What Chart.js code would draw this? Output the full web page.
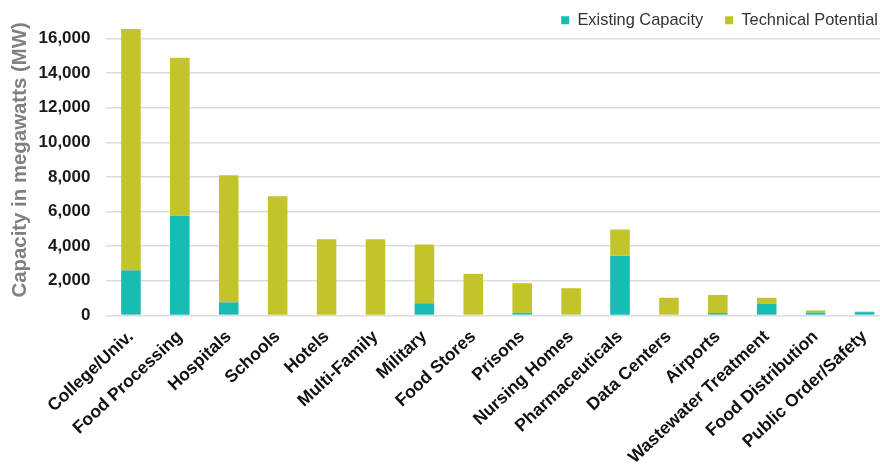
<!DOCTYPE html>
<html>
<head>
<meta charset="utf-8">
<script src="https://cdn.jsdelivr.net/npm/chart.js@4"></script>
<style>
    html, body { margin: 0; padding: 0; background: #fff; }
    #wrap { width: 880px; height: 476px; }
</style>
</head>
<body>
<div id="wrap"><canvas id="capacityChart"></canvas></div>
<script>
const categories = ['College/Univ.', 'Food Processing', 'Hospitals', 'Schools', 'Hotels', 'Multi-Family', 'Military', 'Food Stores',
    'Prisons', 'Nursing Homes', 'Pharmaceuticals', 'Data Centers', 'Airports', 'Wastewater Treatment', 'Food Distribution', 'Public Order/Safety'];
const existingCapacity = [2600, 5750, 750, 0, 0, 0, 700, 0, 150, 0, 3450, 0, 140, 660, 160, 190];
const technicalPotential = [13950, 9130, 7350, 6880, 4400, 4400, 3390, 2400, 1710, 1570, 1510, 1020, 1040, 360, 130, 30];
const yTicks = [0, 2000, 4000, 6000, 8000, 10000, 12000, 14000, 16000];

// the original picture is cropped on the right, so the plot runs a bit past the canvas edge
const stretchPlot = {
    id: 'stretchPlot',
    afterLayout(chart) {
        const x = chart.scales.x;
        const right = chart.width + 9;
        x.width += right - x.right;
        x.right = right;
        chart.chartArea.width += right - chart.chartArea.right;
        chart.chartArea.right = right;
        x.configure();
    }
};

const ctx = document.getElementById('capacityChart');
new Chart(ctx, {
    type: 'bar',
    data: {
        labels: categories,
        datasets: [{
            label: 'Existing Capacity',
            data: existingCapacity,
            backgroundColor: '#17bcb5'
        }, {
            label: 'Technical Potential',
            data: technicalPotential,
            backgroundColor: '#c3c42a'
        }]
    },
    options: {
        responsive: true,
        maintainAspectRatio: false,
        animation: false,
        layout: {
            padding: { left: 8, right: -20, top: -10, bottom: -3 }
        },
        datasets: {
            bar: { categoryPercentage: 1, barPercentage: 0.4, clip: false }
        },
        plugins: {
            legend: {
                position: 'top',
                align: 'end',
                labels: {
                    boxWidth: 8,
                    boxHeight: 8,
                    padding: 22,
                    color: '#333',
                    font: { family: 'Liberation Sans', size: 16.4 }
                }
            },
            tooltip: { enabled: false }
        },
        scales: {
            x: {
                stacked: true,
                grid: { display: false, drawTicks: false },
                border: { display: false },
                afterFit: scale => {
                    scale.paddingLeft = 0;
                    scale.paddingRight = 0;
                },
                ticks: {
                    autoSkip: false,
                    minRotation: 43,
                    maxRotation: 43,
                    padding: 11,
                    color: '#111',
                    font: { family: 'Liberation Sans', size: 17.5, weight: 'bold' }
                }
            },
            y: {
                stacked: true,
                min: 0,
                max: 16000,
                afterBuildTicks: axis => {
                    axis.ticks = yTicks.map(v => ({ value: v }));
                },
                grid: { color: '#dcdcdc', lineWidth: 1.5, drawTicks: false },
                border: { display: false },
                ticks: {
                    padding: 16,
                    color: '#1a1a1a',
                    font: { family: 'Liberation Sans', size: 17, weight: 'bold' },
                    callback: value => value.toLocaleString('en-US')
                },
                title: {
                    display: true,
                    // leading spaces nudge the title up the axis like the original
                    text: '      Capacity in megawatts (MW)',
                    color: '#808080',
                    padding: { top: 0, bottom: -10 },
                    font: { family: 'Liberation Sans', size: 20.4, weight: 'bold' }
                }
            }
        }
    },
    plugins: [stretchPlot]
});
</script>
</body>
</html>
